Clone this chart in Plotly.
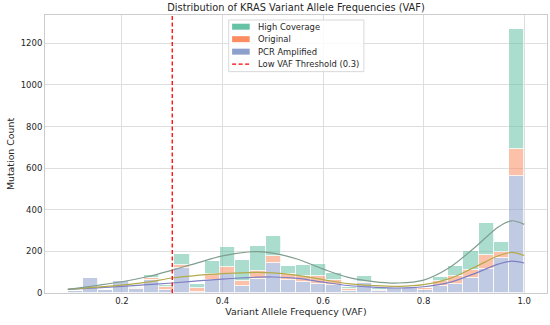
import plotly.graph_objects as go

# ---- data (stacked histogram, 30 bins) ----
bin_start = 0.0923
bin_end = 1.0
n_bins = 30
series_names = ["High Coverage", "Original", "PCR Amplified"]
pcr_amplified = [12, 70, 16, 59, 19, 64, 16, 118, 6, 61, 90, 32, 67, 144, 64,
                 51, 43, 40, 11, 50, 11, 25, 22, 16, 35, 43, 72, 115, 170, 563]
original = [0, 0, 0, 0, 5, 6, 14, 18, 20, 32, 35, 24, 37, 32, 26,
            29, 40, 24, 9, 5, 5, 2, 0, 6, 21, 40, 40, 69, 25, 127]
high_coverage = [0, 0, 0, 0, 5, 18, 10, 53, 17, 62, 94, 104, 123, 96, 38,
                 56, 56, 32, 9, 25, 8, 2, 0, 4, 19, 49, 88, 152, 48, 580]

# KDE curves (count scale), per series, stacked like the bars
kde_x = [0.0923, 0.15, 0.2, 0.25, 0.3, 0.35, 0.4, 0.45, 0.47, 0.5, 0.55, 0.6, 0.65,
         0.7, 0.75, 0.8, 0.85, 0.9, 0.95, 0.975, 1.0]
kde_pcr = [17, 25, 32, 40, 48, 58, 67, 74, 76, 77, 70, 52, 36, 28, 24, 30, 50, 92,
           140, 153, 144]
kde_orig = [0, 3, 6, 12, 24, 27, 26, 24, 23, 20, 15, 12, 9, 8, 8, 10, 18, 30,
            40, 42, 36]
kde_high = [0, 8, 16, 26, 38, 60, 85, 99, 100, 95, 77, 51, 30, 19, 16, 22, 52, 93,
            140, 152, 150]

threshold = 0.3
threshold_label = "Low VAF Threshold (0.3)"
x_ticks = [0.2, 0.4, 0.6, 0.8, 1.0]
x_tick_labels = ["0.2", "0.4", "0.6", "0.8", "1.0"]
y_ticks = [0, 200, 400, 600, 800, 1000, 1200]

# ---- styling / layout ----
W, H = 550, 325
ML, MR, MT, MB = 44.6, 3.4, 15, 31.7
PW, PH = W - ML - MR, H - MT - MB
colors = {"High Coverage": "#66c2a5", "Original": "#fc8d62", "PCR Amplified": "#8da0cb"}
line_colors = {"High Coverage": "#7f9e8f", "Original": "#b3aa4c", "PCR Amplified": "#7f7fc4"}
TXT = "#262626"
FONT = "DejaVu Sans, Liberation Sans, sans-serif"


def px_x(p):
    return (p - ML) / PW


def px_y(p):
    return (H - MB - p) / PH


width = (bin_end - bin_start) / n_bins
centers = [bin_start + width * (i + 0.5) for i in range(n_bins)]

fig = go.Figure()
# bottom to top: PCR Amplified, Original, High Coverage
stack_order = [("PCR Amplified", pcr_amplified, kde_pcr),
               ("Original", original, kde_orig),
               ("High Coverage", high_coverage, kde_high)]
for name, vals, _ in stack_order:
    fig.add_trace(go.Bar(
        x=centers, y=vals, width=width, name=name, showlegend=False,
        marker=dict(color=colors[name], opacity=0.55, line=dict(color="white", width=0.8)),
    ))

cum = [0] * len(kde_x)
for name, _, kde in stack_order:
    cum = [c + k for c, k in zip(cum, kde)]
    fig.add_trace(go.Scatter(
        x=kde_x, y=cum, mode="lines",
        line=dict(color=line_colors[name], width=1.2, shape="spline"),
        showlegend=False, name=name,
    ))

fig.add_trace(go.Scatter(
    x=[threshold, threshold], y=[0, 1336], mode="lines", showlegend=False,
    line=dict(color="red", width=1.3, dash="4px,2.5px"), name=threshold_label,
))

# ---- matplotlib-like legend ----
shapes = []
annotations = []
box = dict(x0=228.3, x1=363.5, y0=20, y1=71.7)
shapes.append(dict(type="rect", xref="paper", yref="paper",
                   x0=px_x(box["x0"]), x1=px_x(box["x1"]),
                   y0=px_y(box["y1"]), y1=px_y(box["y0"]),
                   line=dict(color="#d9d9d9", width=1), fillcolor="rgba(255,255,255,0.85)",
                   layer="above"))
rows = [26.7, 39.2, 51.7, 64.2]
labels = series_names + [threshold_label]
for i, (ry, lab) in enumerate(zip(rows, labels)):
    if i < 3:
        shapes.append(dict(type="rect", xref="paper", yref="paper",
                           x0=px_x(231.7), x1=px_x(249.3),
                           y0=px_y(ry + 3), y1=px_y(ry - 3),
                           line=dict(width=0), fillcolor=colors[lab], layer="above"))
    else:
        shapes.append(dict(type="line", xref="paper", yref="paper",
                           x0=px_x(231.7), x1=px_x(249.3), y0=px_y(ry), y1=px_y(ry),
                           line=dict(color="red", width=1.3, dash="4px,2.5px"), layer="above"))
    annotations.append(dict(text=lab, xref="paper", yref="paper", x=px_x(255.2), y=px_y(ry),
                            xanchor="left", yanchor="middle", showarrow=False,
                            font=dict(size=8.4, color=TXT, family=FONT)))

fig.update_layout(
    width=W, height=H,
    margin=dict(l=ML, r=MR, t=MT, b=MB, autoexpand=False),
    paper_bgcolor="white", plot_bgcolor="white",
    barmode="stack", bargap=0,
    font=dict(family=FONT, color=TXT, size=8.5),
    title=dict(text="Distribution of KRAS Variant Allele Frequencies (VAF)",
               x=0.5, xref="paper", xanchor="center", y=1 - 7.5 / H, yanchor="middle",
               font=dict(size=9.8, color=TXT)),
    showlegend=False,
    shapes=shapes,
    annotations=annotations,
)
fig.update_xaxes(
    range=[0.0469, 1.0454], tickvals=x_ticks, ticktext=x_tick_labels,
    showgrid=True, gridcolor="#dedede", gridwidth=1,
    showline=True, linecolor="#cccccc", linewidth=1, mirror=True,
    zeroline=False, ticks="", automargin=False,
    title=dict(text="Variant Allele Frequency (VAF)", standoff=3, font=dict(size=9.4)),
)
fig.update_yaxes(
    range=[0, 1336], tickvals=y_ticks,
    showgrid=True, gridcolor="#dedede", gridwidth=1,
    showline=True, linecolor="#cccccc", linewidth=1, mirror=True,
    zeroline=False, ticks="", automargin=False,
    title=dict(text="Mutation Count", standoff=4, font=dict(size=9.4)),
)

fig.write_html("out.html", config={"displayModeBar": False},
               post_script="document.body.style.margin='0';document.body.style.overflow='hidden';")
